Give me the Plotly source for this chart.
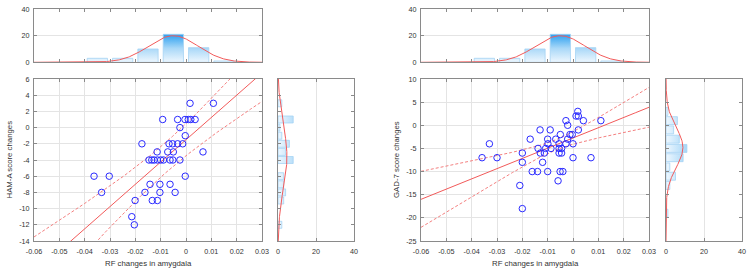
import numpy as np
import plotly.graph_objects as go

# ---------------- data ----------------
ham_x = [0.0016, 0.0108,
         -0.0092, -0.0033, -0.0004, 0.0009, 0.0019, 0.0036,
         -0.0024, -0.0003,
         -0.0174, -0.0067, -0.0053, -0.0033, -0.0013,
         -0.0114, -0.0072, -0.0050, 0.0067,
         -0.0146, -0.0135, -0.0126, -0.0113, -0.0100, -0.0089, -0.0063, -0.0052, -0.0024,
         -0.0363, -0.0303, -0.0003,
         -0.0142, -0.0103, -0.0063,
         -0.0333, -0.0162, -0.0103, -0.0043,
         -0.0201, -0.0133, -0.0113,
         -0.0214, -0.0204]
ham_y = [3, 3,
         1, 1, 1, 1, 1, 1,
         0, -1,
         -2, -2, -2, -2, -2,
         -3, -3, -3, -3,
         -4, -4, -4, -4, -4, -4, -4, -4, -4,
         -6, -6, -6,
         -7, -7, -7,
         -8, -8, -8, -8,
         -9, -9, -9,
         -11, -12]

gad_x = [0.0019,
         0.0012, 0.0021,
         -0.0028, 0.0041, 0.0110,
         -0.0021,
         -0.0130, -0.0090, 0.0021,
         -0.0050, -0.0012, -0.0003,
         -0.0169, -0.0100, -0.0068, -0.0021,
         -0.0330, -0.0099, -0.0055, -0.0028, 0.0000,
         -0.0138, -0.0108, -0.0087, -0.0055, -0.0045,
         -0.0200, -0.0129, -0.0113, -0.0055, -0.0045,
         -0.0359, -0.0300, 0.0000, 0.0071,
         -0.0200, -0.0120,
         -0.0161, -0.0140, -0.0100, -0.0051, -0.0040,
         -0.0059, -0.0210, -0.0200]
gad_y = [3,
         2, 2,
         1, 1, 1,
         0,
         -1, -1, -1,
         -2, -2, -2,
         -3, -3, -3, -3,
         -4, -4, -4, -4, -4,
         -5, -5, -5, -5, -5,
         -6, -6, -6, -6, -6,
         -7, -7, -7, -7,
         -8, -8,
         -10, -10, -10, -10, -10,
         -12, -13, -18]

# fitted regression line and its confidence band
# (intercept, slope) and band half-width = sqrt(hw_min^2 + growth*(x - x_center)^2)
ham_fit_intercept, ham_fit_slope = -1.5, 275.0
ham_band_center, ham_band_hw_min, ham_band_growth = -0.008, 1.87, 6191.0
gad_fit_intercept, gad_fit_slope = -2.74, 221.0
gad_band_center, gad_band_hw_min, gad_band_growth = -0.007, 1.1, 12600.0

# marginal histogram of RF changes (same for both panels)
rf_bin_centers = [-0.035, -0.025, -0.015, -0.005, 0.005, 0.015]
rf_counts = [3, 3, 10, 21, 11, 1]
rf_bin_width = 0.01
rf_mean, rf_sd = -0.005, 0.0098

# marginal histogram of HAM-A changes
ham_bin_centers = [3, 1, 0, -1, -2, -3, -4, -6, -7, -8, -9, -12]
ham_counts = [2, 8, 1, 2, 6, 4, 8, 3, 3, 4, 3, 2]
ham_bin_width = 1
ham_mean, ham_sd = -3.6, 3.9

# marginal histogram of GAD-7 changes
gad_bin_centers = [3, 1, -1, -3, -5, -7, -9, -11, -13, -19]
gad_counts = [1, 6, 4, 7, 11, 9, 2, 5, 2, 1]
gad_bin_width = 2
gad_mean, gad_sd = -4.8, 4.3

# tick labels
rf_tickvals = [-0.06, -0.05, -0.04, -0.03, -0.02, -0.01, 0, 0.01, 0.02, 0.03]
rf_ticktext = ['-0.06', '-0.05', '-0.04', '-0.03', '-0.02', '-0.01', '0', '0.01', '0.02', '0.03']
ham_tickvals = [-14, -12, -10, -8, -6, -4, -2, 0, 2, 4, 6]
ham_ticktext = ['-14', '-12', '-10', '-8', '-6', '-4', '-2', '0', '2', '4', '6']
gad_tickvals = [-25, -20, -15, -10, -5, 0, 5, 10]
gad_ticktext = ['-25', '-20', '-15', '-10', '-5', '0', '5', '10']
count_tickvals = [0, 20, 40]
count_ticktext = ['0', '20', '40']

# ---------------- style ----------------
FONT = "Liberation Sans, Arial, sans-serif"
TXT = "#333333"
FRAME = "#8a8a8a"
GRID = "#e4e4e4"
RED = "#f25a5a"
RED_CI = "#f48080"
BLUE = "#2a2aff"
GRAD = [[0, "#eef7fe"], [0.5, "#a9d8f8"], [1, "#2a9ff0"]]
BAR_EDGE = "#a6d3f4"

W, H = 750, 274
def dx(a, b):
    return [a / W, b / W]
def dy(top, bottom):
    return [1 - bottom / H, 1 - top / H]

fig = go.Figure()


def vbars(centers, counts, width, xa, ya):
    xs, ys = [], []
    for c, n in zip(centers, counts):
        l, r = c - width * 0.4, c + width * 0.4
        xs += [l, r, r, l, l, None]
        ys += [0, 0, n, n, 0, None]
    fig.add_trace(go.Scatter(x=xs, y=ys, mode="lines", fill="toself",
                             line=dict(color=BAR_EDGE, width=0.8),
                             fillgradient=dict(type="vertical", colorscale=GRAD, start=0, stop=21),
                             xaxis=xa, yaxis=ya, hoverinfo="skip", showlegend=False))


def hbars(centers, counts, height, xa, ya):
    xs, ys = [], []
    for c, n in zip(centers, counts):
        b, t = c - height * 0.43, c + height * 0.43
        xs += [0, n, n, 0, 0, None]
        ys += [b, b, t, t, b, None]
    fig.add_trace(go.Scatter(x=xs, y=ys, mode="lines", fill="toself",
                             line=dict(color=BAR_EDGE, width=0.8),
                             fillgradient=dict(type="horizontal", colorscale=GRAD, start=0, stop=21),
                             xaxis=xa, yaxis=ya, hoverinfo="skip", showlegend=False))


def normal_counts(grid, mean, sd, n, bw):
    grid = np.asarray(grid)
    return n * bw / (sd * np.sqrt(2 * np.pi)) * np.exp(-0.5 * ((grid - mean) / sd) ** 2)


def fit_lines(intercept, slope, xc, hw_min, growth, xgrid):
    fit = intercept + slope * xgrid
    hw = np.sqrt(hw_min ** 2 + growth * (xgrid - xc) ** 2)
    return fit, fit - hw, fit + hw


annotations = []


def panel(px, py, fitpars, ycent, ycnt, ybw, ymean, ysd, ax_main, ax_top, ax_side,
          x0, x1, y_side0, y_side1, yrange, ytv, ytt, ytitle, ytitle_x):
    m, t, s = ax_main, ax_top, ax_side
    # top histogram
    vbars(rf_bin_centers, rf_counts, rf_bin_width, "x" + t, "y" + t)
    xg = np.linspace(-0.06, 0.03, 300)
    fig.add_trace(go.Scatter(x=xg, y=normal_counts(xg, rf_mean, rf_sd, sum(rf_counts), rf_bin_width),
                             mode="lines", line=dict(color=RED, width=1),
                             xaxis="x" + t, yaxis="y" + t, hoverinfo="skip", showlegend=False))
    # side histogram
    hbars(ycent, ycnt, ybw, "x" + s, "y" + s)
    yg = np.linspace(yrange[0], yrange[1], 300)
    fig.add_trace(go.Scatter(x=normal_counts(yg, ymean, ysd, sum(ycnt), ybw), y=yg,
                             mode="lines", line=dict(color=RED, width=1),
                             xaxis="x" + s, yaxis="y" + s, hoverinfo="skip", showlegend=False))
    # regression + confidence band
    xl = np.linspace(-0.06, 0.03, 200)
    fit, lo, hi = fit_lines(*fitpars, xl)
    for yy, dash, col in [(lo, "3px,2px", RED_CI), (hi, "3px,2px", RED_CI), (fit, "solid", RED)]:
        fig.add_trace(go.Scatter(x=xl, y=yy, mode="lines", line=dict(color=col, width=1, dash=dash),
                                 xaxis="x" + m, yaxis="y" + m, hoverinfo="skip", showlegend=False))
    # points
    fig.add_trace(go.Scatter(x=px, y=py, mode="markers",
                             marker=dict(symbol="circle-open", size=6.5, color=BLUE, line=dict(width=1, color=BLUE)),
                             xaxis="x" + m, yaxis="y" + m, showlegend=False))

    common = dict(showline=True, linecolor=FRAME, linewidth=1, mirror="ticks", ticks="inside",
                  ticklen=3, tickcolor=FRAME, zeroline=False, automargin=False,
                  tickfont=dict(family=FONT, size=7.2, color=TXT))
    lay = {}
    lay["xaxis" + m] = dict(domain=dx(x0, x1), anchor="y" + m, range=[-0.06, 0.03],
                            tickvals=rf_tickvals, ticktext=rf_ticktext, showgrid=True, gridcolor=GRID,
                            ticklabelstandoff=3, **common)
    lay["yaxis" + m] = dict(domain=dy(79, 241), anchor="x" + m, range=yrange,
                            tickvals=ytv, ticktext=ytt, showgrid=True, gridcolor=GRID,
                            ticklabelstandoff=2, **common)
    lay["xaxis" + t] = dict(domain=dx(x0, x1), anchor="y" + t, range=[-0.06, 0.03],
                            tickvals=rf_tickvals, showticklabels=False, showgrid=False, **common)
    lay["yaxis" + t] = dict(domain=dy(9, 62.3), anchor="x" + t, range=[0, 40],
                            tickvals=count_tickvals, ticktext=count_ticktext, showgrid=True, gridcolor=GRID,
                            ticklabelstandoff=2, **common)
    lay["xaxis" + s] = dict(domain=dx(y_side0, y_side1), anchor="y" + s, range=[0, 40],
                            tickvals=count_tickvals, ticktext=count_ticktext, showgrid=True, gridcolor=GRID,
                            ticklabelstandoff=3, **common)
    lay["yaxis" + s] = dict(domain=dy(79, 241), anchor="x" + s, range=yrange,
                            tickvals=ytv, showticklabels=False, showgrid=False, **common)
    for k, v in lay.items():
        fig.layout[k] = v
    annotations.append(dict(text="RF changes in amygdala", xref="paper", yref="paper",
                            x=(x0 + x1) / 2 / W, y=1 - 263.5 / H, xanchor="center", yanchor="middle",
                            showarrow=False, font=dict(family=FONT, size=7.8, color=TXT)))
    annotations.append(dict(text=ytitle, xref="paper", yref="paper", textangle=-90,
                            x=ytitle_x / W, y=1 - 160 / H, xanchor="center", yanchor="middle",
                            showarrow=False, font=dict(family=FONT, size=7.8, color=TXT)))


panel(ham_x, ham_y,
      (ham_fit_intercept, ham_fit_slope, ham_band_center, ham_band_hw_min, ham_band_growth),
      ham_bin_centers, ham_counts, ham_bin_width, ham_mean, ham_sd,
      "", "2", "3", 34, 262, 278, 354, [-14, 6], ham_tickvals, ham_ticktext, "HAM-A score changes", 8.5)
panel(gad_x, gad_y,
      (gad_fit_intercept, gad_fit_slope, gad_band_center, gad_band_hw_min, gad_band_growth),
      gad_bin_centers, gad_counts, gad_bin_width, gad_mean, gad_sd,
      "4", "5", "6", 421, 649, 666, 742, [-25, 10], gad_tickvals, gad_ticktext, "GAD-7 score changes", 396)

fig.update_layout(width=W, height=H, margin=dict(l=0, r=0, t=0, b=0, autoexpand=False),
                  paper_bgcolor="white", plot_bgcolor="white", annotations=annotations,
                  font=dict(family=FONT, size=7.5, color=TXT), showlegend=False)

fig.write_html("out.html", config={"responsive": False, "displayModeBar": False},
               post_script="document.body.style.margin='0px';document.body.style.padding='0px';")
